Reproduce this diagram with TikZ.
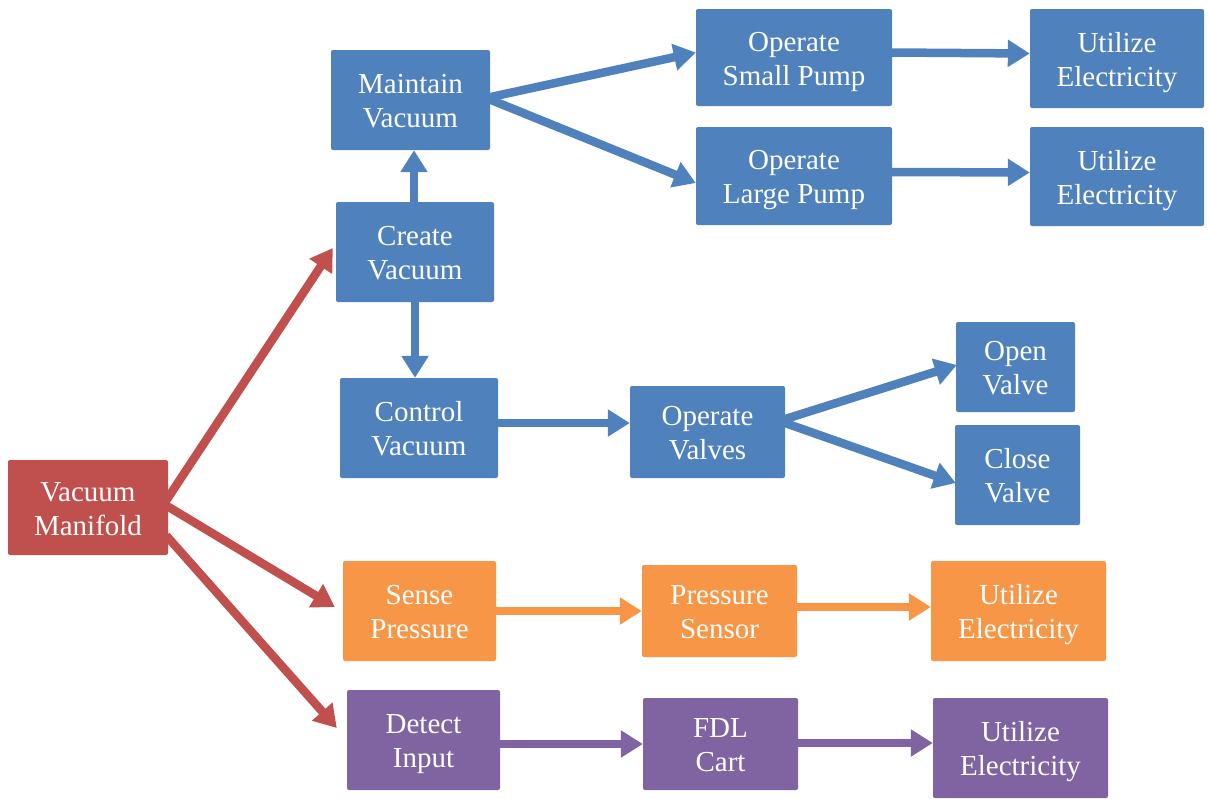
\documentclass[tikz,border=0pt]{standalone}
\usepackage{fontspec}
\setmainfont{Liberation Serif}
\usetikzlibrary{arrows.meta}
\definecolor{cblue}{HTML}{4F81BD}
\definecolor{cred}{HTML}{C0504D}
\definecolor{corange}{HTML}{F79646}
\definecolor{cpurple}{HTML}{8064A2}
\tikzset{
  box/.style={rectangle, rounded corners=2pt, inner sep=0pt, text=white,
    font=\fontsize{29}{34}\selectfont},
  arr/.style={line width=8.5pt, -{Triangle[length=22pt,width=26pt]}},
}
\newcommand{\bx}[6]{\node[box, fill=#1, minimum width=#4pt, minimum height=#5pt] (#2) at (#3)
  {\raisebox{-4pt}[\height][\depth]{\begin{tabular}{@{}c@{}}#6\end{tabular}}};}
\begin{document}
\begin{tikzpicture}[x=1pt,y=-1pt]
\useasboundingbox (0,0) rectangle (1209,798);
\bx{cred}{vm}{88,507.5}{160}{95}{Vacuum\\Manifold}
\bx{cblue}{cv}{415,252}{158}{100}{Create\\Vacuum}
\bx{cblue}{mv}{410.5,100}{159}{100}{Maintain\\Vacuum}
\bx{cblue}{osp}{794,57.5}{196}{97}{Operate\\Small Pump}
\bx{cblue}{olp}{794,176}{196}{98}{Operate\\Large Pump}
\bx{cblue}{ue1}{1117,58.5}{174}{99}{Utilize\\Electricity}
\bx{cblue}{ue2}{1117,176.5}{174}{99}{Utilize\\Electricity}
\bx{cblue}{ctl}{419,428}{158}{100}{Control\\Vacuum}
\bx{cblue}{ov}{707.5,432}{155}{92}{Operate\\Valves}
\bx{cblue}{open}{1015.5,367}{119}{90}{Open\\Valve}
\bx{cblue}{close}{1017.5,475}{125}{100}{Close\\Valve}
\bx{corange}{sp}{419.5,611}{153}{100}{Sense\\Pressure}
\bx{corange}{ps}{719.5,611}{155}{92}{Pressure\\Sensor}
\bx{corange}{ue3}{1018.5,611}{175}{100}{Utilize\\Electricity}
\bx{cpurple}{di}{423.5,740}{153}{100}{Detect\\Input}
\bx{cpurple}{fdl}{720.5,744}{155}{92}{FDL\\Cart}
\bx{cpurple}{ue4}{1020.5,748}{175}{100}{Utilize\\Electricity}

\draw[arr, cred] ([xshift=-2pt,yshift=7pt]vm.east) -- ([xshift=-3pt,yshift=4pt]cv.west);
\draw[arr, cred] ([xshift=-2pt,yshift=2pt]vm.east) -- ([xshift=-8pt,yshift=4pt]sp.west);
\draw[arr, cred] ([xshift=-2pt,yshift=-28pt]vm.east) -- ([xshift=-10pt,yshift=12pt]di.west);

\draw[arr, cblue] ([xshift=-1pt]cv.north) -- ([xshift=-1pt]cv.north |- mv.south);
\draw[arr, cblue] (cv.south) -- (cv.south |- ctl.north);
\draw[arr, cblue] ([xshift=-4pt,yshift=2pt]mv.east) -- ([yshift=5pt]osp.west);
\draw[arr, cblue] ([xshift=-4pt,yshift=2pt]mv.east) -- ([yshift=-7pt]olp.west);
\draw[arr, cblue] ([yshift=5pt]osp.east) -- ([yshift=5pt]ue1.west);
\draw[arr, cblue] ([yshift=4pt]olp.east) -- ([yshift=4pt]ue2.west);
\draw[arr, cblue] ([xshift=-4pt,yshift=5pt]ctl.east) -- ([yshift=9pt]ov.west);
\draw[arr, cblue] ([xshift=-3pt,yshift=12pt]ov.east) -- ([xshift=1pt,yshift=2pt]open.west);
\draw[arr, cblue] ([xshift=-3pt,yshift=10pt]ov.east) -- ([xshift=1pt,yshift=-8pt]close.west);

\draw[arr, corange] (sp.east) -- (ps.west);
\draw[arr, corange] ([yshift=4pt]ps.east) -- ([yshift=4pt]ue3.west);
\draw[arr, cpurple] ([yshift=-4pt]di.east) -- (fdl.west);
\draw[arr, cpurple] ([yshift=1pt]fdl.east) -- ([yshift=5pt]ue4.west);
\end{tikzpicture}
\end{document}
